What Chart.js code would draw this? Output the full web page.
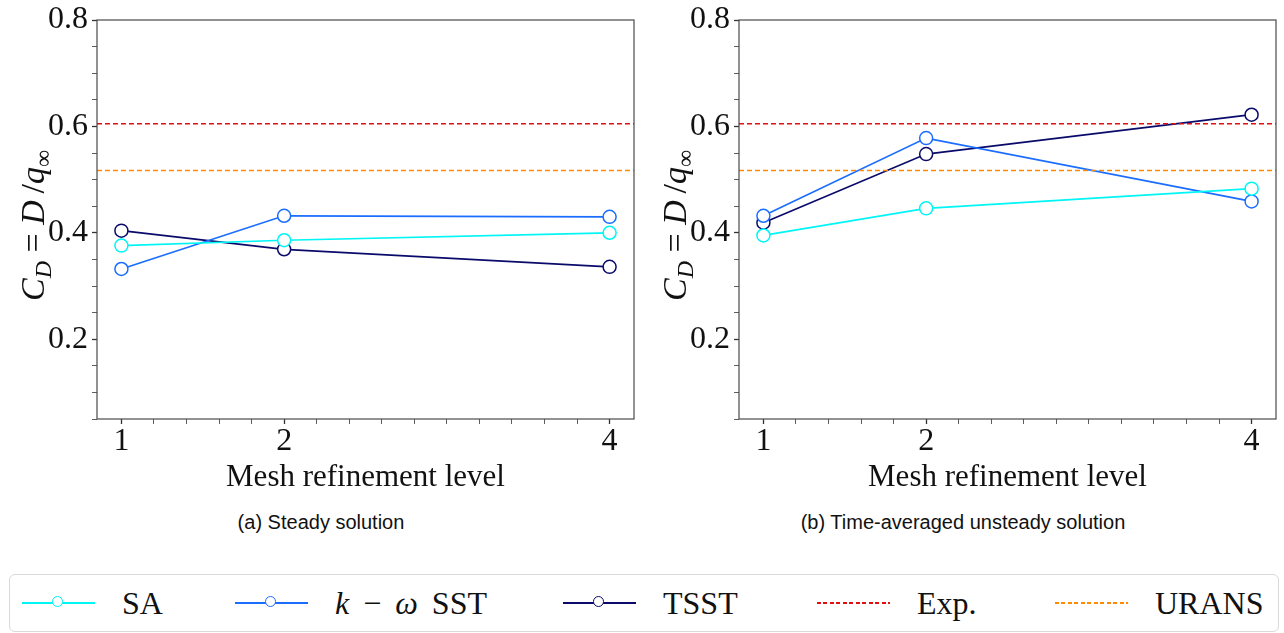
<!doctype html>
<html lang="en">
<head>
<meta charset="utf-8">
<title>Drag coefficient vs mesh refinement</title>
<script src="https://cdn.jsdelivr.net/npm/chart.js@4.4.1/dist/chart.umd.min.js"></script>
<style>
  body{margin:0;background:#fff;width:1284px;height:633px;position:relative;overflow:hidden;font-family:"Liberation Serif",serif;color:#111}
  .panel{position:absolute;top:0;width:642px;height:500px}
  .cap{position:absolute;top:511px;width:642px;text-align:center;font-family:"Liberation Sans",Arial,sans-serif;font-size:20px}
  .legend{position:absolute;left:9px;top:574px;width:1270px;height:58px;border:1px solid #d9d9d9;border-radius:6px;box-sizing:border-box}
  .item{position:absolute;top:0;height:56px;display:flex;align-items:center}
  .sw{position:relative;width:73px;height:2px}
  .sw i{position:absolute;left:30px;top:-6px;width:11px;height:11px;border-radius:50%;background:#fff;border:1.5px solid;box-sizing:border-box}
  .lbl{font-size:32px;margin-left:27px;white-space:pre}
</style>
</head>
<body>
<div class="panel" style="left:0"><canvas id="steady"></canvas></div>
<div class="panel" style="left:642px"><canvas id="unsteady"></canvas></div>
<div class="cap" style="left:0">(a) Steady solution</div>
<div class="cap" style="left:642px">(b) Time-averaged unsteady solution</div>
<div class="legend" id="legend"></div>

<script>
  // Mesh refinement levels and C_D values.
  const meshLevels = [1, 2, 4];
  const saSteady = [0.376, 0.386, 0.400];
  const sstSteady = [0.332, 0.432, 0.430];
  const tsstSteady = [0.404, 0.369, 0.336];
  const saUnsteady = [0.395, 0.446, 0.483];
  const sstUnsteady = [0.432, 0.578, 0.459];
  const tsstUnsteady = [0.419, 0.548, 0.622];
  const expValue = 0.605;
  const uransValue = 0.517;
  const xTickLabels = [1, 2, 4];
  const yTickLabels = [0.2, 0.4, 0.6, 0.8];
  const xRange = [0.85, 4.15];
  const yRange = [0.05, 0.8];

  const C = { sa: "#00f5f5", sst: "#1a6dff", tsst: "#0a0a6b", exp: "#e01010", urans: "#ff8a00" };
  const serif = '"Liberation Serif", "DejaVu Serif", serif';

  // minor tick positions (matplotlib-style: 0.2 on x, 0.05 on y)
  const xTicks = []; for (let i = 0; i <= 15; i++) xTicks.push(+(1 + i * 0.2).toFixed(2));
  const yTicks = []; for (let i = 1; i <= 16; i++) yTicks.push(+(i * 0.05).toFixed(2));
  const isMajor = (v, list) => list.some(m => Math.abs(m - v) < 1e-6);

  const frame = {
    id: "frame",
    afterDraw(chart) {
      const { ctx, chartArea: a } = chart;
      ctx.save();
      ctx.strokeStyle = "#4a4a4a"; ctx.lineWidth = 1.2;
      ctx.strokeRect(a.left, a.top, a.right - a.left, a.bottom - a.top);
      ctx.restore();
    }
  };

  // y title "C_D = D/q_inf" with subscripts, rotated
  const yTitle = {
    id: "yTitle",
    afterDraw(chart) {
      const { ctx, chartArea: a } = chart;
      const big = 34, small = 24;
      const parts = [
        ["C", "italic", big, 0], ["D", "italic", small, 7], [" = ", "normal", big, 0],
        ["D", "italic", big, 0], ["\u2009/", "normal", big, 0], ["q", "italic", big, 0], ["\u221E", "normal", small, 7]
      ];
      ctx.save();
      let total = 0;
      for (const p of parts) { ctx.font = `${p[1]} ${p[2]}px ${serif}`; total += ctx.measureText(p[0]).width; }
      ctx.translate(44, (a.top + a.bottom) / 2 + 6);
      ctx.rotate(-Math.PI / 2);
      ctx.fillStyle = "#111"; ctx.textBaseline = "alphabetic";
      let x = -total / 2;
      for (const p of parts) {
        ctx.font = `${p[1]} ${p[2]}px ${serif}`;
        ctx.fillText(p[0], x, p[3]);
        x += ctx.measureText(p[0]).width;
      }
      ctx.restore();
    }
  };

  const series = (label, values, color) => ({
    label, data: meshLevels.map((m, i) => ({ x: m, y: values[i] })),
    borderColor: color, backgroundColor: "#fff", borderWidth: 1.7,
    pointRadius: 6.5, pointHoverRadius: 6.5, pointBorderWidth: 1.5, pointBackgroundColor: "#fff", clip: false
  });
  const refLine = (label, value, color) => ({
    label, data: xRange.map(x => ({ x, y: value })),
    borderColor: color, borderWidth: 1.6, borderDash: [5, 3], pointRadius: 0
  });

  function makeChart(id, sa, sst, tsst) {
    return new Chart(document.getElementById(id), {
      type: "line",
      data: {
        datasets: [
          refLine("Exp.", expValue, C.exp),
          refLine("URANS", uransValue, C.urans),
          series("SA", sa, C.sa),
          series("k-\u03C9 SST", sst, C.sst),
          series("TSST", tsst, C.tsst)
        ]
      },
      options: {
        responsive: false, animation: false,
        layout: { padding: { top: 18, right: 5, left: 0, bottom: 0 } },
        plugins: { legend: { display: false }, tooltip: { enabled: false } },
        scales: {
          x: {
            type: "linear", min: xRange[0], max: xRange[1],
            afterBuildTicks: s => { s.ticks = xTicks.map(v => ({ value: v })); },
            afterFit: s => { s.height = 81; },
            grid: { drawOnChartArea: false, tickLength: 5, tickColor: "#333", tickWidth: c => isMajor(c.tick.value, xTickLabels) ? 1.3 : 0.8 },
            border: { display: false },
            ticks: {
              autoSkip: false, maxRotation: 0, padding: 2, color: "#111", font: { family: serif, size: 32, lineHeight: 1 },
              callback: v => isMajor(v, xTickLabels) ? String(Math.round(v)) : ""
            },
            title: { display: true, text: "Mesh refinement level", color: "#111", font: { family: serif, size: 31 }, padding: { top: 0, bottom: 4 } }
          },
          y: {
            min: yRange[0], max: yRange[1],
            afterBuildTicks: s => { s.ticks = yTicks.map(v => ({ value: v })); },
            afterFit: s => { s.width = 97; },
            grid: { drawOnChartArea: false, tickLength: 5, tickColor: "#333", tickWidth: c => isMajor(c.tick.value, yTickLabels) ? 1.3 : 0.8 },
            border: { display: false },
            ticks: {
              autoSkip: false, padding: 4, color: "#111", font: { family: serif, size: 32, lineHeight: 1 },
              callback: v => isMajor(v, yTickLabels) ? v.toFixed(1) : ""
            }
          }
        }
      },
      plugins: [frame, yTitle]
    });
  }

  for (const c of document.querySelectorAll("canvas")) { c.width = 642; c.height = 500; }
  makeChart("steady", saSteady, sstSteady, tsstSteady);
  makeChart("unsteady", saUnsteady, sstUnsteady, tsstUnsteady);

  // legend
  const legendItems = [
    { left: 12, color: C.sa, marker: true, html: "SA" },
    { left: 225, color: C.sst, marker: true, html: "<i>k</i> \u2212 <i>\u03C9</i> SST" },
    { left: 553, color: C.tsst, marker: true, html: "TSST" },
    { left: 807, color: C.exp, marker: false, html: "Exp." },
    { left: 1045, color: C.urans, marker: false, html: "URANS" }
  ];
  const lg = document.getElementById("legend");
  for (const it of legendItems) {
    const line = it.marker
      ? `background:${it.color}`
      : `background:repeating-linear-gradient(90deg,${it.color} 0 4px,transparent 4px 6.5px);height:1.6px`;
    lg.insertAdjacentHTML("beforeend",
      `<div class="item" style="left:${it.left}px"><div class="sw" style="${line}">${it.marker ? `<i style="border-color:${it.color}"></i>` : ""}</div><span class="lbl" style="word-spacing:6px">${it.html}</span></div>`);
  }
</script>
</body>
</html>
